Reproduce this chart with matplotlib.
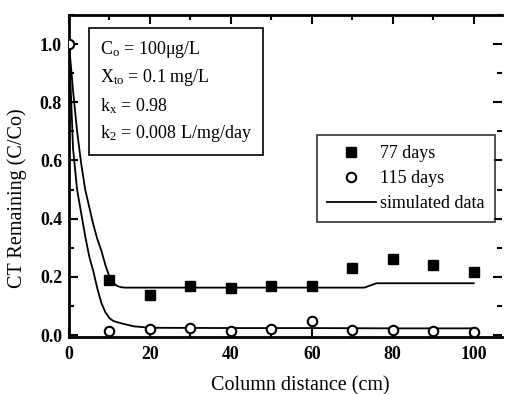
import matplotlib
matplotlib.use("Agg")
import matplotlib.pyplot as plt
from matplotlib.ticker import MultipleLocator

plt.rcParams['font.family'] = ['Liberation Serif', 'DejaVu Serif']
plt.rcParams['mathtext.fontset'] = 'custom'
plt.rcParams['mathtext.rm'] = 'Liberation Serif'
plt.rcParams['mathtext.it'] = 'Liberation Serif'

# measured data
x_77 = [10, 20, 30, 40, 50, 60, 70, 80, 90, 100]
y_77 = [0.188, 0.138, 0.170, 0.160, 0.170, 0.168, 0.229, 0.262, 0.240, 0.216]

x_115 = [0, 10, 20, 30, 40, 50, 60, 70, 80, 90, 100]
y_115 = [1.0, 0.015, 0.020, 0.024, 0.015, 0.020, 0.048, 0.018, 0.018, 0.015, 0.012]

# simulated curves
sim77_x = [0, 1, 2, 3, 4, 5, 6, 7, 8, 9, 10, 11, 12, 13, 14, 20, 40, 60, 73, 76, 100]
sim77_y = [1.0, 0.84, 0.70, 0.59, 0.50, 0.44, 0.38, 0.33, 0.29, 0.24, 0.20, 0.178,
           0.168, 0.164, 0.163, 0.163, 0.163, 0.163, 0.163, 0.178, 0.178]

sim115_x = [0, 1, 2, 3, 4, 5, 6, 7, 8, 9, 10, 11, 13, 16, 20, 40, 60, 80, 100]
sim115_y = [1.0, 0.64, 0.50, 0.42, 0.34, 0.27, 0.22, 0.16, 0.11, 0.078, 0.058, 0.048,
            0.040, 0.030, 0.025, 0.024, 0.024, 0.023, 0.023]

fig = plt.figure(figsize=(5.06, 3.94), dpi=100)
ax = fig.add_axes([69/506, (394-336.5)/394, 433/506, 321.5/394])

ax.plot(sim77_x, sim77_y, color='black', lw=1.3, label='simulated data', zorder=2)
ax.plot(sim115_x, sim115_y, color='black', lw=1.3, zorder=2)
ax.plot(x_77, y_77, 's', color='black', ms=7.5, label='77 days', zorder=3)
ax.plot(x_115, y_115, 'o', mfc='white', mec='black', mew=1.5, ms=6.8,
        label='115 days', zorder=3)

ax.set_xlim(0, 107)
ax.set_ylim(-0.005, 1.1)
ax.xaxis.set_major_locator(MultipleLocator(20))
ax.xaxis.set_minor_locator(MultipleLocator(10))
ax.yaxis.set_major_locator(MultipleLocator(0.2))
ax.yaxis.set_minor_locator(MultipleLocator(0.1))
ax.tick_params(which='both', direction='in', top=True, right=True, width=1.5)
ax.tick_params(which='major', length=6.5, labelsize=12.8)
ax.tick_params(which='minor', length=3.5)
ax.tick_params(axis='x', which='major', pad=7)
ax.tick_params(axis='y', which='major', pad=5)
ax.set_xticks([0, 20, 40, 60, 80, 100])
ax.set_yticks([0.0, 0.2, 0.4, 0.6, 0.8, 1.0])
ax.set_yticklabels(['0.0', '0.2', '0.4', '0.6', '0.8', '1.0'])
for lab in ax.get_xticklabels() + ax.get_yticklabels():
    lab.set_fontweight('bold')
for s in ['left', 'bottom', 'top']:
    ax.spines[s].set_linewidth(2)
ax.spines['right'].set_visible(False)

ax.set_xlabel('Column distance (cm)', fontsize=14.5)
ax.set_ylabel('CT Remaining (C/Co)', fontsize=14.5)
ax.xaxis.set_label_coords((300 - 69) / 433, (336.5 - 376) / 321.5)
ax.yaxis.set_label_coords((27 - 69) / 433, (336.5 - 198) / 321.5)

txt = ('C$_\\mathregular{o}$ = 100\u03bcg/L\n'
       'X$_\\mathregular{to}$ = 0.1 mg/L\n'
       'k$_\\mathregular{x}$ = 0.98\n'
       'k$_\\mathregular{2}$ = 0.008 L/mg/day')
ax.text((100 - 69) / 433, (336.5 - 39) / 321.5, txt, transform=ax.transAxes,
        fontsize=13, va='top', ha='left', linespacing=1.5,
        bbox=dict(boxstyle='square,pad=0.6', fc='white', ec='black', lw=1.2))

handles, labels = ax.get_legend_handles_labels()
order = [1, 2, 0]
leg = ax.legend([handles[i] for i in order], [labels[i] for i in order],
                loc='upper left', bbox_to_anchor=((317 - 69) / 433, (336.5 - 135) / 321.5),
                borderaxespad=0, fontsize=13, frameon=True, fancybox=False,
                edgecolor='black', handlelength=2.7, handletextpad=0.25,
                borderpad=0.55, labelspacing=0.45)
leg.get_frame().set_linewidth(1.2)

fig.savefig('out.png', dpi=100)
